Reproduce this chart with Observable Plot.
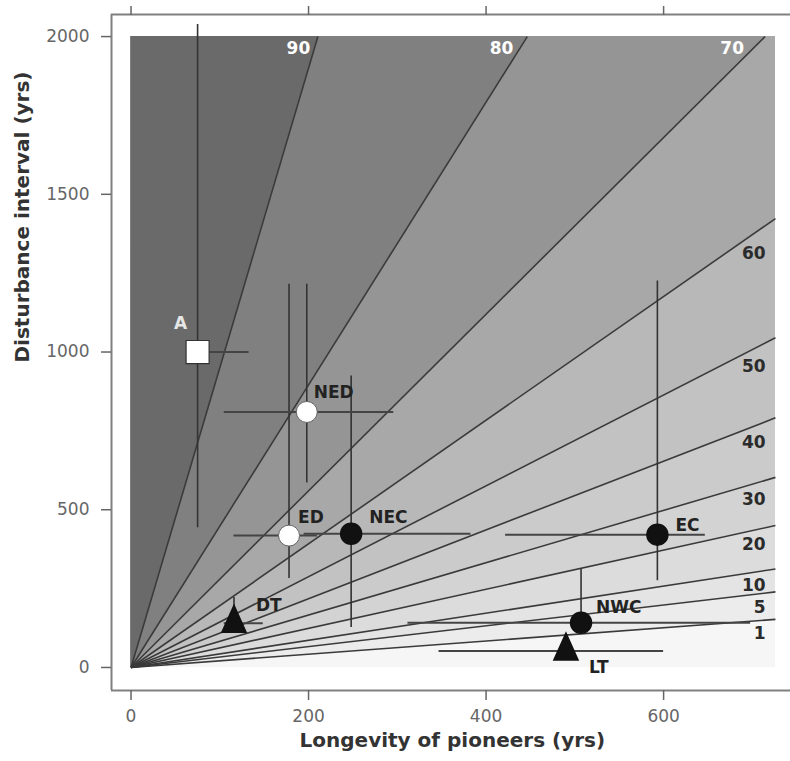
<!DOCTYPE html>
<html>
<head>
<meta charset="utf-8">
<script src="https://cdn.jsdelivr.net/npm/d3@7"></script>
<script src="https://cdn.jsdelivr.net/npm/@observablehq/plot@0.6"></script>
<style>
  html, body { margin: 0; padding: 0; background: white; overflow: hidden; }
  svg { display: block; }
</style>
</head>
<body>
<div id="chart"></div>
<script>
// ---- data ----
const contourLevels = [1, 5, 10, 20, 30, 40, 50, 60, 70, 80, 90];
const contourSlopes = [0.21, 0.33, 0.43, 0.62, 0.83, 1.09, 1.44, 1.96, 2.80, 4.48, 9.50];
const bandFills = ["#f6f6f6", "#ececec", "#e4e4e4", "#dcdcdc", "#d3d3d3", "#cbcbcb",
                   "#c2c2c2", "#b8b8b8", "#a8a8a8", "#959595", "#808080", "#6a6a6a"];
const panelX = [0, 726];
const panelY = [0, 2000];

const sites = ["A", "NED", "ED", "NEC", "EC", "NWC", "DT", "LT"];
const siteShape = ["square", "openCircle", "openCircle", "circle", "circle", "circle", "triangle", "triangle"];
const longevity = [75, 198, 178, 248, 593, 507, 116, 490];
const longevityLow = [70, 105, 116, 195, 422, 312, 105, 347];
const longevityHigh = [133, 296, 210, 383, 647, 698, 149, 600];
const interval = [1000, 810, 418, 424, 421, 142, 140, 52];
const intervalLow = [443, 585, 282, 127, 275, 125, 130, 52];
const intervalHigh = [2038, 1215, 1215, 924, 1225, 313, 222, 52];

const xTicks = [0, 200, 400, 600];
const yTicks = [0, 500, 1000, 1500, 2000];
const xLabel = "Longevity of pioneers (yrs)";
const yLabel = "Disturbance interval (yrs)";

// ---- derived tables ----
const [gx0, gx1] = panelX;
const [gy0, gy1] = panelY;
const exitX = s => Math.min(gx1, gy1 / s);
const contours = contourLevels.map((lv, i) => ({lv, s: contourSlopes[i]}));
const rows = sites.map((name, i) => ({
  name, shape: siteShape[i],
  x: longevity[i], xlo: longevityLow[i], xhi: longevityHigh[i],
  y: interval[i], ylo: intervalLow[i], yhi: intervalHigh[i]
}));

// label layout (pixel offsets)
const labelLayout = {
  A:   {dx: -17, dy: -28, anchor: "middle", fill: "#e6e6e6"},
  NED: {dx: 7,  dy: -19, anchor: "start", fill: "#222"},
  ED:  {dx: 9,  dy: -18, anchor: "start", fill: "#222"},
  NEC: {dx: 18, dy: -16, anchor: "start", fill: "#222"},
  EC:  {dx: 18, dy: -9,  anchor: "start", fill: "#222"},
  NWC: {dx: 15, dy: -15, anchor: "start", fill: "#222"},
  DT:  {dx: 22, dy: -18, anchor: "start", fill: "#222"},
  LT:  {dx: 23, dy: 16,  anchor: "start", fill: "#222"}
};

const tallTriangle = {
  draw(ctx, size) {
    const r = Math.sqrt(size / Math.PI);
    const h = 2.45 * r, w = 2.2 * r;
    ctx.moveTo(0, -2 * h / 3);
    ctx.lineTo(w / 2, h / 3);
    ctx.lineTo(-w / 2, h / 3);
    ctx.closePath();
  }
};

const marks = [];
// base band (below lowest contour)
marks.push(Plot.areaY(panelX, {x: d => d, y1: gy0, y2: gy1, fill: bandFills[0]}));
// bands above each contour line
contours.forEach((c, i) => {
  marks.push(Plot.areaY([0, exitX(c.s)], {x: d => d, y1: d => c.s * d, y2: gy1, fill: bandFills[i + 1]}));
});
// contour lines
marks.push(Plot.link(contours, {
  x1: () => 0, y1: () => 0,
  x2: d => exitX(d.s), y2: d => d.s * exitX(d.s),
  stroke: "#3a3a3a", strokeWidth: 1.6
}));
// contour labels
const topC = contours.filter(c => c.s * gx1 > gy1);
const rightC = contours.filter(c => c.s * gx1 <= gy1);
marks.push(Plot.text(topC, {
  x: d => 1940 / d.s, y: () => 1940, text: d => String(d.lv),
  textAnchor: "end", dx: -2, dy: -7, fill: "white", fontWeight: "bold", fontSize: 17
}));
marks.push(Plot.text(rightC, {
  x: () => 689, y: d => d.s * 689, text: d => String(d.lv),
  textAnchor: "end", dx: 23, dy: 12, fill: "#2b2b2b", fontWeight: "bold", fontSize: 17
}));

// frame (left, top, bottom) - the right side lies outside the picture
marks.push(Plot.ruleX([-22], {stroke: "#808080", strokeWidth: 2}));
marks.push(Plot.ruleY([-73, 2070], {stroke: "#808080", strokeWidth: 2}));

// axes
const plain = d => String(d);
marks.push(Plot.axisY({ticks: yTicks, tickFormat: plain, tickSize: 10, tickPadding: 12, fontSize: 17, color: "#666", strokeWidth: 1.5, label: null}));
marks.push(Plot.axisX({ticks: xTicks, tickFormat: plain, tickSize: 10, tickPadding: 9, fontSize: 17, color: "#666", strokeWidth: 1.5, label: null}));
marks.push(Plot.axisX({anchor: "top", ticks: xTicks, tickSize: 9, tickFormat: () => "", color: "#666", strokeWidth: 1.5, label: null}));

// axis titles
marks.push(Plot.text([xLabel], {text: d => d, x: () => 362, frameAnchor: "bottom", dy: 56, fontWeight: "bold", fontSize: 20, fill: "#333"}));
marks.push(Plot.text([yLabel], {text: d => d, frameAnchor: "left", rotate: -90, dx: -89, dy: 10, fontWeight: "bold", fontSize: 20, fill: "#333"}));

// error bars
marks.push(Plot.ruleX(rows.filter(d => d.yhi > d.ylo), {x: "x", y1: "ylo", y2: "yhi", stroke: "#333", strokeWidth: 1.6}));
marks.push(Plot.ruleY(rows, {y: "y", x1: "xlo", x2: "xhi", stroke: "#444", strokeWidth: 2}));

// points
marks.push(Plot.dot(rows.filter(d => d.shape === "square"), {x: "x", y: "y", symbol: "square", r: 13, fill: "white", stroke: "#333", strokeWidth: 1.2}));
marks.push(Plot.dot(rows.filter(d => d.shape === "openCircle"), {x: "x", y: "y", r: 10.5, fill: "white", stroke: "#666", strokeWidth: 1}));
marks.push(Plot.dot(rows.filter(d => d.shape === "circle"), {x: "x", y: "y", r: 10.5, fill: "#111", stroke: "#111"}));
marks.push(Plot.dot(rows.filter(d => d.shape === "triangle"), {x: "x", y: "y", symbol: tallTriangle, r: 11, fill: "#111", stroke: "#111"}));

// point labels
rows.forEach(d => {
  const L = labelLayout[d.name];
  marks.push(Plot.text([d], {x: "x", y: "y", text: "name", dx: L.dx, dy: L.dy, textAnchor: L.anchor,
    fill: L.fill, fontWeight: "bold", fontSize: 17}));
});

const chart = Plot.plot({
  width: 790, height: 761,
  marginLeft: 111, marginRight: -20, marginTop: 14, marginBottom: 71,
  x: {domain: [-22, 765.5], axis: null},
  y: {domain: [-73, 2070], axis: null},
  color: {type: "identity"},
  style: {fontFamily: "DejaVu Sans", background: "white", overflow: "hidden"},
  marks
});
document.getElementById("chart").appendChild(chart);
</script>
</body>
</html>
